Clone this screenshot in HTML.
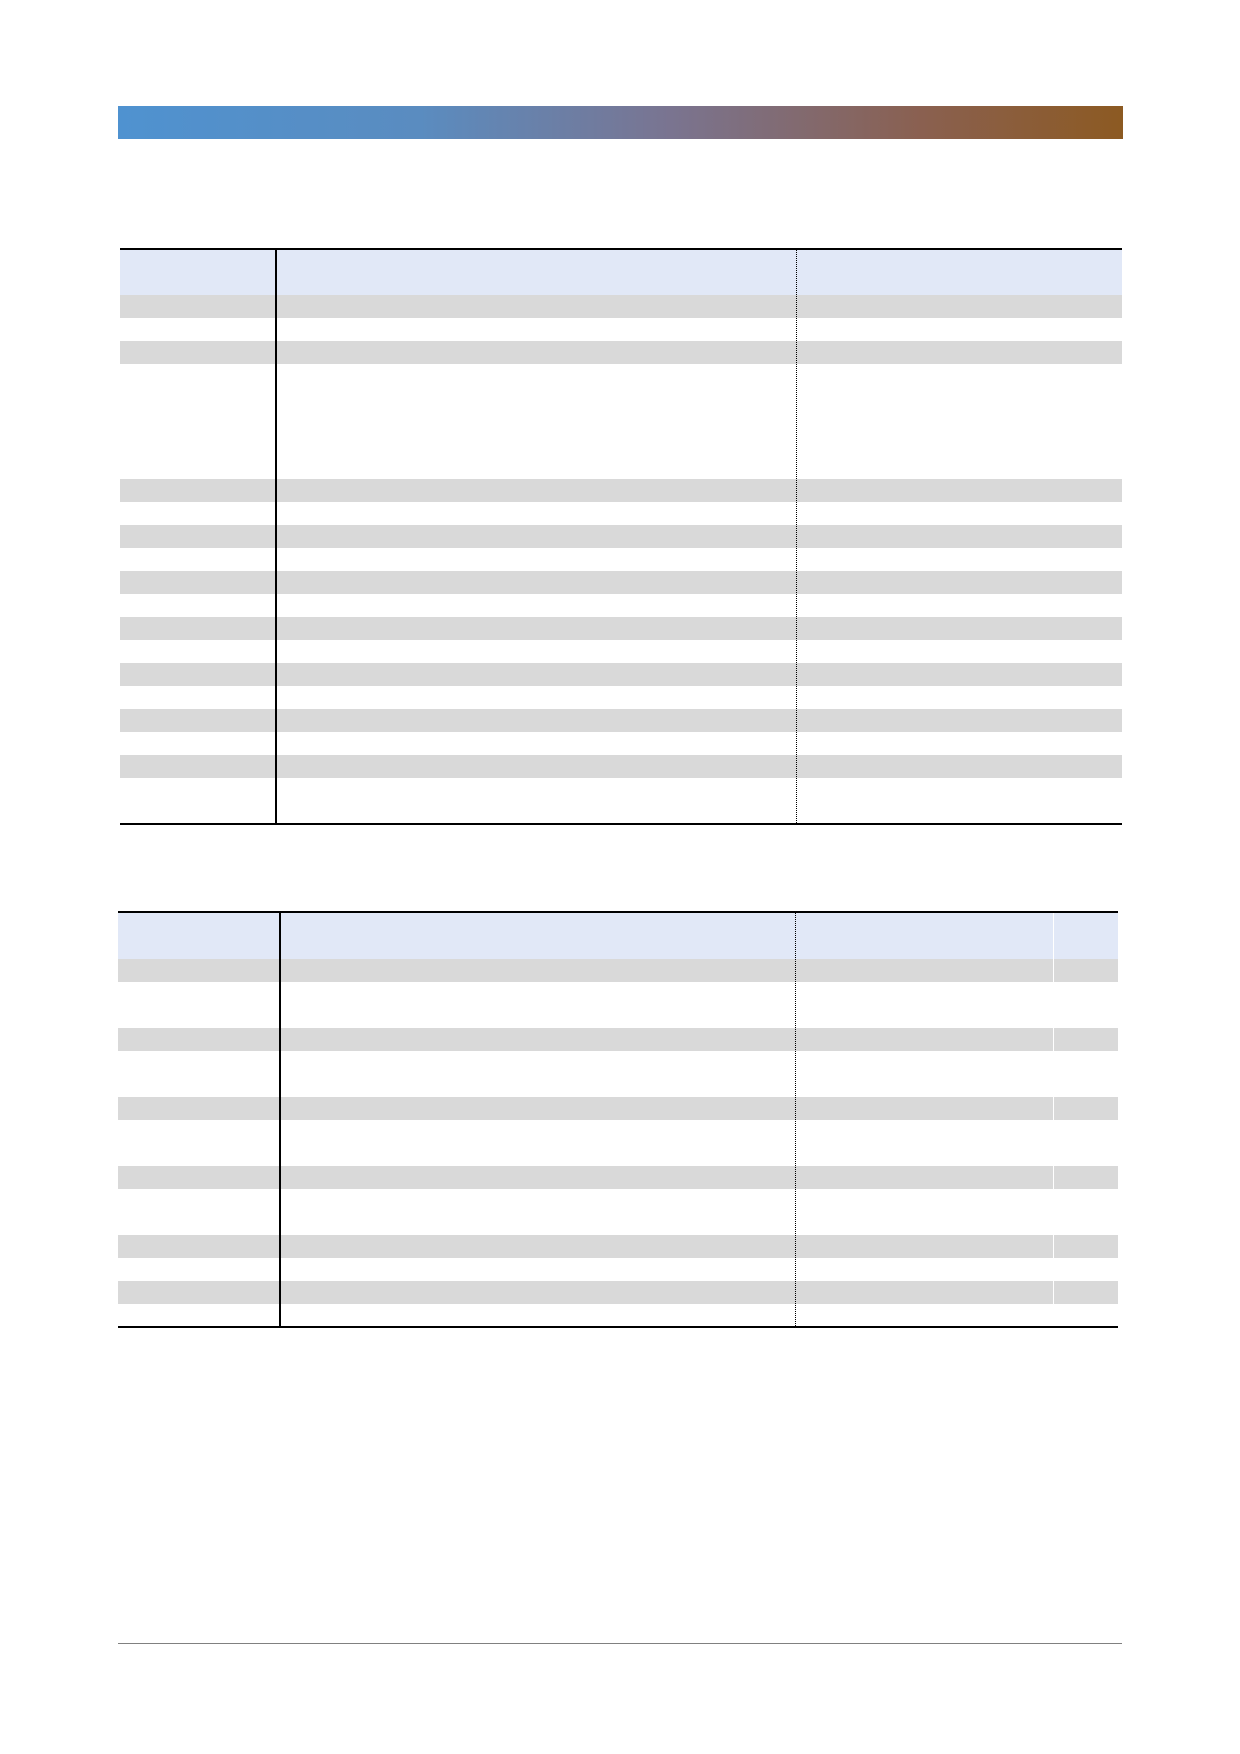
<!DOCTYPE html>
<html><head><meta charset="utf-8"><style>
html,body{margin:0;padding:0;background:#fff;}
body{width:1240px;height:1754px;position:relative;overflow:hidden;font-family:"Liberation Sans",sans-serif;}
div{position:absolute;box-sizing:border-box;}
.g{background:#d9d9d9;}
.h{background:#e1e8f7;}
</style></head><body>
<div style="left:118px;top:106px;width:1005px;height:33px;background:linear-gradient(90deg,#4f92d0 0%,#5a8cc0 30%,#7a7490 55%,#8a6050 80%,#8c5a22 100%);"></div>

<div style="left:120px;top:248px;width:1002px;height:577px;">
  <div class="h" style="left:0;top:0;width:1002px;height:47px;"></div>
  <div class="g" style="left:0;top:47px;width:1002px;height:23px;"></div>
  <div class="g" style="left:0;top:93px;width:1002px;height:23px;"></div>
  <div class="g" style="left:0;top:231px;width:1002px;height:23px;"></div>
  <div class="g" style="left:0;top:277px;width:1002px;height:23px;"></div>
  <div class="g" style="left:0;top:323px;width:1002px;height:23px;"></div>
  <div class="g" style="left:0;top:369px;width:1002px;height:23px;"></div>
  <div class="g" style="left:0;top:415px;width:1002px;height:23px;"></div>
  <div class="g" style="left:0;top:461px;width:1002px;height:23px;"></div>
  <div class="g" style="left:0;top:507px;width:1002px;height:23px;"></div>
  <div style="left:0;top:0;width:1002px;height:2px;background:#000;"></div>
  <div style="left:0;top:575px;width:1002px;height:2px;background:#000;"></div>
  <div style="left:155px;top:0;width:2px;height:577px;background:#000;"></div>
  <div style="left:676px;top:2px;width:0;height:573px;border-left:1px dotted #000;"></div>
</div>

<div style="left:118px;top:911px;width:1000px;height:417px;">
  <div class="h" style="left:0;top:0;width:1000px;height:48px;"></div>
  <div class="g" style="left:0;top:48px;width:1000px;height:23px;"></div>
  <div class="g" style="left:0;top:117px;width:1000px;height:23px;"></div>
  <div class="g" style="left:0;top:186px;width:1000px;height:23px;"></div>
  <div class="g" style="left:0;top:255px;width:1000px;height:23px;"></div>
  <div class="g" style="left:0;top:324px;width:1000px;height:23px;"></div>
  <div class="g" style="left:0;top:370px;width:1000px;height:23px;"></div>
  <div style="left:935px;top:2px;width:1px;height:393px;background:#fff;"></div>
  <div style="left:0;top:0;width:1000px;height:2px;background:#000;"></div>
  <div style="left:0;top:415px;width:1000px;height:2px;background:#000;"></div>
  <div style="left:161px;top:0;width:2px;height:417px;background:#000;"></div>
  <div style="left:677px;top:2px;width:0;height:413px;border-left:1px dotted #000;"></div>
</div>

<div style="left:118px;top:1643px;width:1004px;height:1px;background:#808080;"></div>
</body></html>
